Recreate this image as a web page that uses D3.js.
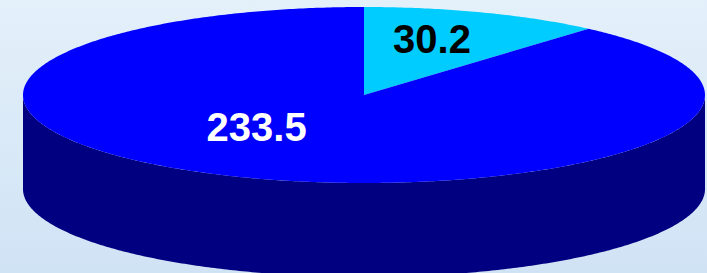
<!DOCTYPE html>
<html><head><meta charset="utf-8">
<script src="https://cdn.jsdelivr.net/npm/d3@7"></script>
<style>html,body{margin:0;padding:0;background:#dde9f6;}svg{display:block;}</style>
</head><body>
<svg id="c" width="707" height="273"></svg>
<script>
// Data
const categories = ["A", "B"];
const values = [30.2, 233.5];
const labels = ["30.2", "233.5"];
const topColors = ["#00CCFF", "#0000FF"];
const sideColors = ["#0099CC", "#000080"];
const labelColors = ["#000000", "#FFFFFF"];

// Layout
const W = 707, H = 273;
const cx = 364, cy = 95, rx = 341, ry = 88, depth = 94;
const labelLayout = [{a: 17.4, r: 0.667}, {a: 221.3, r: 0.477}]; // degrees clockwise from 12 o'clock, radius fraction

const svg = d3.select("#c");
const defs = svg.append("defs");
const g = defs.append("linearGradient").attr("id", "bg").attr("x1", 0).attr("y1", 0).attr("x2", 0).attr("y2", 1);
g.append("stop").attr("offset", 0).attr("stop-color", "#E4F0FA");
g.append("stop").attr("offset", 1).attr("stop-color", "#D0E3F5");
svg.append("rect").attr("width", W).attr("height", H).attr("fill", "url(#bg)");

const pie = d3.pie().sort(null).value(d => d)(values);

// angle a in radians clockwise from 12 o'clock
const px = (a, f = 1) => cx + rx * f * Math.sin(a);
const py = (a, f = 1, dz = 0) => cy - ry * f * Math.cos(a) + dz;

function arcPoints(a0, a1, dz) {
  const n = Math.max(2, Math.ceil((a1 - a0) / 0.01));
  const pts = [];
  for (let i = 0; i <= n; i++) {
    const a = a0 + (a1 - a0) * i / n;
    pts.push([px(a), py(a, 1, dz)]);
  }
  return pts;
}
const line = d3.line();

// Sides (front half: angles between PI/2 and 3PI/2)
const sideG = svg.append("g");
pie.forEach((p, i) => {
  const s = Math.max(p.startAngle, Math.PI / 2);
  const e = Math.min(p.endAngle, 3 * Math.PI / 2);
  if (e <= s) return;
  const topPts = arcPoints(s, e, 0);
  const botPts = arcPoints(s, e, depth).reverse();
  sideG.append("path")
    .attr("d", line(topPts.concat(botPts)) + "Z")
    .attr("fill", sideColors[i]);
});

// Tops
const topG = svg.append("g");
pie.forEach((p, i) => {
  const pts = [[cx, cy]].concat(arcPoints(p.startAngle, p.endAngle, 0));
  topG.append("path")
    .attr("d", line(pts) + "Z")
    .attr("fill", topColors[i]);
});

// Labels
svg.append("g").selectAll("text").data(pie).join("text")
  .attr("x", (d, i) => px(labelLayout[i].a * Math.PI / 180, labelLayout[i].r))
  .attr("y", (d, i) => py(labelLayout[i].a * Math.PI / 180, labelLayout[i].r))
  .attr("dy", "0.36em")
  .attr("text-anchor", "middle")
  .attr("font-family", "'Liberation Sans', Arial, sans-serif")
  .attr("font-weight", "bold")
  .attr("font-size", 40)
  .attr("fill", (d, i) => labelColors[i])
  .text((d, i) => labels[i]);
</script>
</body></html>
